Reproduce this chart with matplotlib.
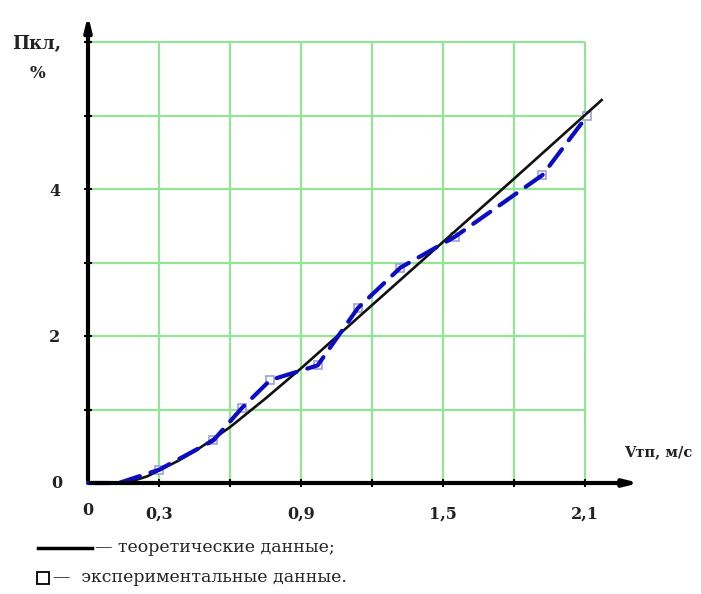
import matplotlib.pyplot as plt
from matplotlib.lines import Line2D
import numpy as np

# theoretical curve
theory_x = [0, 0.13, 0.2, 0.25, 0.3, 0.38, 0.45, 0.52, 0.6, 0.75, 0.9, 1.2, 1.5, 1.8, 2.17]
theory_y = [0, 0, 0.04, 0.09, 0.17, 0.3, 0.43, 0.58, 0.76, 1.15, 1.56, 2.42, 3.28, 4.14, 5.21]

# experimental points
exp_x = [0, 0.13, 0.3, 0.53, 0.65, 0.77, 0.97, 1.14, 1.32, 1.55, 1.92, 2.11]
exp_y = [0, 0, 0.18, 0.58, 1.02, 1.40, 1.60, 2.38, 2.93, 3.35, 4.19, 5.0]

grid_x = [0.3, 0.6, 0.9, 1.2, 1.5, 1.8, 2.1]
grid_y = [1, 2, 3, 4, 5, 6]
xtick_labels = ["0,3", "", "0,9", "", "1,5", "", "2,1"]
ytick_labels = ["", "2", "", "4", "", ""]

W, H = 701, 594
fig = plt.figure(figsize=(W / 100, H / 100), dpi=100)
plt.rcParams["font.family"] = ["DejaVu Serif"]

x_scale = 236.7  # px per unit
y_scale = 73.5
xmax, ymax = 2.35, 6.45
ax = fig.add_axes([88 / W, (H - 483) / H, xmax * x_scale / W, ymax * y_scale / H])
ax.set_xlim(0, xmax)
ax.set_ylim(0, ymax)
for s in ax.spines.values():
    s.set_visible(False)

# green grid
grid_col = "#95e495"
ax.vlines(grid_x, 0, 6, colors=grid_col, lw=1.6, zorder=1)
ax.hlines(grid_y, 0, 2.1, colors=grid_col, lw=1.6, zorder=1)

# axes with arrows
ax.annotate("", xy=(2.34, 0), xytext=(0, 0),
            arrowprops=dict(arrowstyle="-|>,head_length=0.8,head_width=0.2", lw=3, color="black"),
            annotation_clip=False, zorder=5)
ax.annotate("", xy=(0, 6.4), xytext=(0, 0),
            arrowprops=dict(arrowstyle="-|>,head_length=0.8,head_width=0.2", lw=3, color="black"),
            annotation_clip=False, zorder=5)

ax.set_xticks(grid_x)
ax.set_xticklabels(xtick_labels)
ax.set_yticks(grid_y)
ax.set_yticklabels(ytick_labels)
ax.tick_params(axis="both", direction="inout", length=6, width=1.5, color="black",
               labelsize=11.5, labelcolor="#222222")
ax.tick_params(axis="x", pad=13)
ax.tick_params(axis="y", pad=17)
for lab in ax.get_xticklabels() + ax.get_yticklabels():
    lab.set_fontweight("bold")
ax.text(0, -0.37, "0", ha="center", va="center", fontsize=11.5, fontweight="bold", color="#222222")
ax.text(-0.13, 0, "0", ha="center", va="center", fontsize=11.5, fontweight="bold", color="#222222")

# data
ax.plot(theory_x, theory_y, color="#111111", lw=1.9, zorder=3, clip_on=False)
ax.plot(exp_x, exp_y, color="#0c0cc4", lw=3.0, dashes=(5, 2.7), zorder=4, clip_on=False,
        dash_capstyle="round")
ax.plot(exp_x[2:], exp_y[2:], ls="none", marker="s", ms=6, mfc="white", mec="#a0a0d8",
        mew=1.2, zorder=2, clip_on=False)

# axis titles
fig.text(37 / W, 1 - 44 / H, "Пкл,", ha="center", va="center", fontsize=13, fontweight="bold",
         color="#222222")
fig.text(38 / W, 1 - 73 / H, "%", ha="center", va="center", fontsize=12, fontweight="bold",
         color="#222222")
fig.text(658 / W, 1 - 452 / H, "Vтп, м/с", ha="center", va="center", fontsize=10.5,
         fontweight="bold", color="#222222")

# legend
fig.add_artist(Line2D([38 / W, 92 / W], [1 - 548 / H, 1 - 548 / H], color="black", lw=2.5))
fig.text(95 / W, 1 - 548 / H, "— теоретические данные;", ha="left", va="center",
         fontsize=12.5, color="#222222")
fig.add_artist(Line2D([43 / W], [1 - 578 / H], marker="s", ms=8, mfc="white", mec="black", mew=1.3))
fig.text(53 / W, 1 - 578 / H, "—  экспериментальные данные.", ha="left", va="center",
         fontsize=12.5, color="#222222")

fig.savefig("out.png", dpi=100)
